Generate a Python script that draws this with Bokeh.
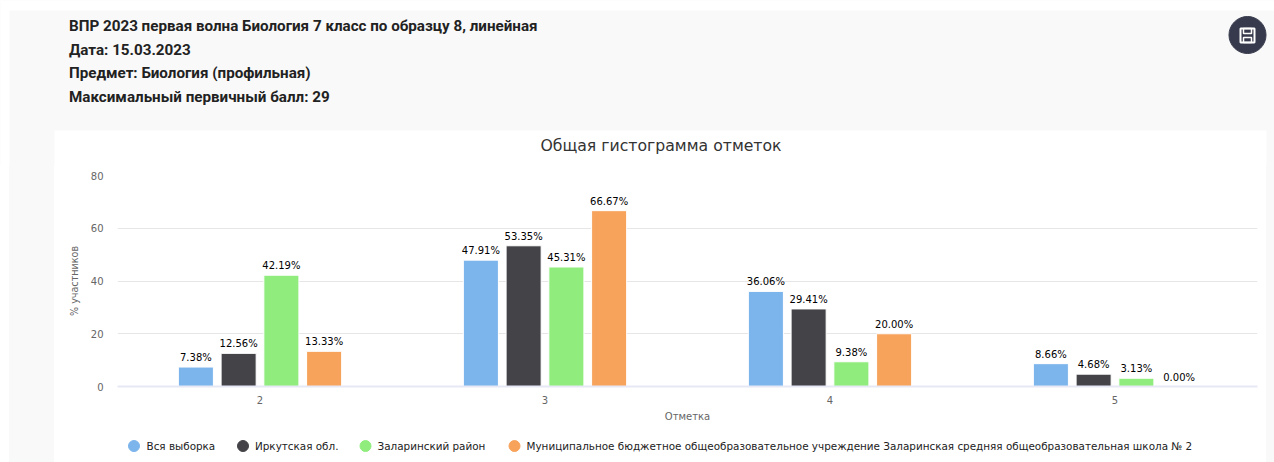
from bokeh.plotting import figure
from bokeh.models import FactorRange, ColumnDataSource, Range1d, FixedTicker, Spacer
from bokeh.layouts import column, row
from bokeh.transform import dodge
from bokeh.core.properties import value
from bokeh.embed import file_html
from bokeh.resources import INLINE

header_lines = ["ВПР 2023 первая волна Биология 7 класс по образцу 8, линейная",
                "Дата: 15.03.2023", "Предмет: Биология (профильная)",
                "Максимальный первичный балл: 29"]
title = "Общая гистограмма отметок"
categories = ["2", "3", "4", "5"]
series_names = ["Вся выборка", "Иркутская обл.", "Заларинский район",
                "Муниципальное бюджетное общеобразовательное учреждение Заларинская средняя общеобразовательная школа № 2"]
vsya = [7.38, 47.91, 36.06, 8.66]
irk = [12.56, 53.35, 29.41, 4.68]
zal = [42.19, 45.31, 9.38, 3.13]
school = [13.33, 66.67, 20.00, 0.00]
colors = ["#7cb5ec", "#434348", "#90ed7d", "#f7a35c"]
y_ticks = [0, 20, 40, 60, 80]
BG = "#f9f9f9"
FONT = "DejaVu Sans"

# header band + chart title
h = figure(width=1274, height=165, x_range=Range1d(0, 1274), y_range=Range1d(165, 0),
           output_backend="svg", toolbar_location=None, min_border=0,
           background_fill_color=BG, border_fill_color=BG, outline_line_color=None)
h.xaxis.visible = False; h.yaxis.visible = False; h.grid.visible = False
h.quad(left=0, right=1274, top=0, bottom=10, color="#ffffff", line_color=None)
h.quad(left=0, right=9, top=0, bottom=165, color="#ffffff", line_color=None)
h.quad(left=54, right=1266, top=130, bottom=165, color="#ffffff", line_color=None)
h.text(x=[68.5]*4, y=[25, 49, 72, 96], text=header_lines, text_font=value("Roboto"),
       text_font_style="bold", text_font_size="15.2px", text_color="#222222",
       text_baseline="middle", text_align="left")
h.text(x=[660.5], y=[144.5], text=[title], text_font=value(FONT), text_font_size="15.7px",
       text_color="#333333", text_baseline="middle", text_align="center")
h.circle(x=[1247], y=[34.5], radius=18.5, color="#373a4c")
h.quad(left=1240, right=1254, top=28, bottom=42, fill_color=None, line_color="#ffffff", line_width=2)
h.quad(left=1243, right=1251, top=28, bottom=33, fill_color=None, line_color="#ffffff", line_width=1.5)
h.quad(left=1243, right=1251, top=37, bottom=42, fill_color=None, line_color="#ffffff", line_width=1.5)

# chart
src = ColumnDataSource(dict(cat=categories, a=vsya, b=irk, c=zal, d=school,
    la=[f"{v:.2f}%" for v in vsya], lb=[f"{v:.2f}%" for v in irk],
    lc=[f"{v:.2f}%" for v in zal], ld=[f"{v:.2f}%" for v in school]))
p = figure(width=1212, height=265, x_range=FactorRange(factors=categories, range_padding=0),
           y_range=Range1d(0, 80), output_backend="svg", toolbar_location=None,
           min_border_left=63, min_border_right=9, min_border_top=10, min_border_bottom=44,
           background_fill_color="#ffffff", border_fill_color="#ffffff", outline_line_color=None)
offsets = [-0.225, -0.075, 0.075, 0.225]
for col, lab, off, colr in zip("abcd", ["la", "lb", "lc", "ld"], offsets, colors):
    x = dodge("cat", off, range=p.x_range)
    p.vbar(x=x, top=col, width=0.123, source=src, fill_color=colr, line_color="#ffffff", line_width=1)
    p.text(x=x, y=col, text=lab, source=src, text_align="center", text_baseline="bottom", y_offset=-4,
           text_font=value(FONT), text_font_size="10px", text_color="#000000")

p.yaxis.ticker = FixedTicker(ticks=y_ticks)
p.yaxis.axis_label = "% участников"
p.xaxis.axis_label = "Отметка"
p.yaxis.axis_line_color = None
p.yaxis.major_tick_line_color = None; p.yaxis.minor_tick_line_color = None
p.xaxis.major_tick_line_color = None; p.xaxis.minor_tick_line_color = None
p.xaxis.axis_line_color = "#e6e9f5"; p.xaxis.axis_line_width = 2
p.xgrid.visible = False
p.ygrid.grid_line_color = "#e6e6e6"
for ax in (p.xaxis[0], p.yaxis[0]):
    ax.major_label_text_font = FONT; ax.major_label_text_font_size = "10px"
    ax.major_label_text_color = "#666666"
    ax.axis_label_text_font = FONT; ax.axis_label_text_font_size = "9.6px"
    ax.axis_label_text_font_style = "normal"; ax.axis_label_text_color = "#666666"
p.xaxis.axis_label_text_font_size = "10px"
p.yaxis.major_label_standoff = 8
p.yaxis.axis_label_standoff = 8
p.xaxis.major_label_standoff = 3
p.xaxis.axis_label_standoff = 4

# legend strip: its plot area lines up with the chart's, so x runs in page pixels 117..1257
lg = figure(width=1212, height=32, x_range=Range1d(117, 1257), y_range=Range1d(32, 0),
            output_backend="svg", toolbar_location=None, min_border=0,
            background_fill_color="#ffffff", border_fill_color="#ffffff", outline_line_color=None)
lg.xaxis.visible = False; lg.yaxis.visible = False; lg.grid.visible = False
lg.scatter(x=[133.5, 242.5, 365, 514], y=[15.5] * 4, size=11, color=colors)
lg.text(x=[146, 254.5, 377, 526], y=[15.5] * 4, text=series_names, text_font=value(FONT),
        text_font_size="10.4px", text_color="#222222", text_baseline="middle", text_align="left")

chart_col = column(p, lg, spacing=0)
left_pad = row(Spacer(width=9, height=297), Spacer(width=45, height=297, styles={"background-color": BG}), spacing=0)
layout = column(h, row(left_pad, chart_col,
                       Spacer(width=8, height=297, styles={"background-color": BG}), spacing=0), spacing=0)
open("out.html", "w").write(file_html(layout, INLINE))
